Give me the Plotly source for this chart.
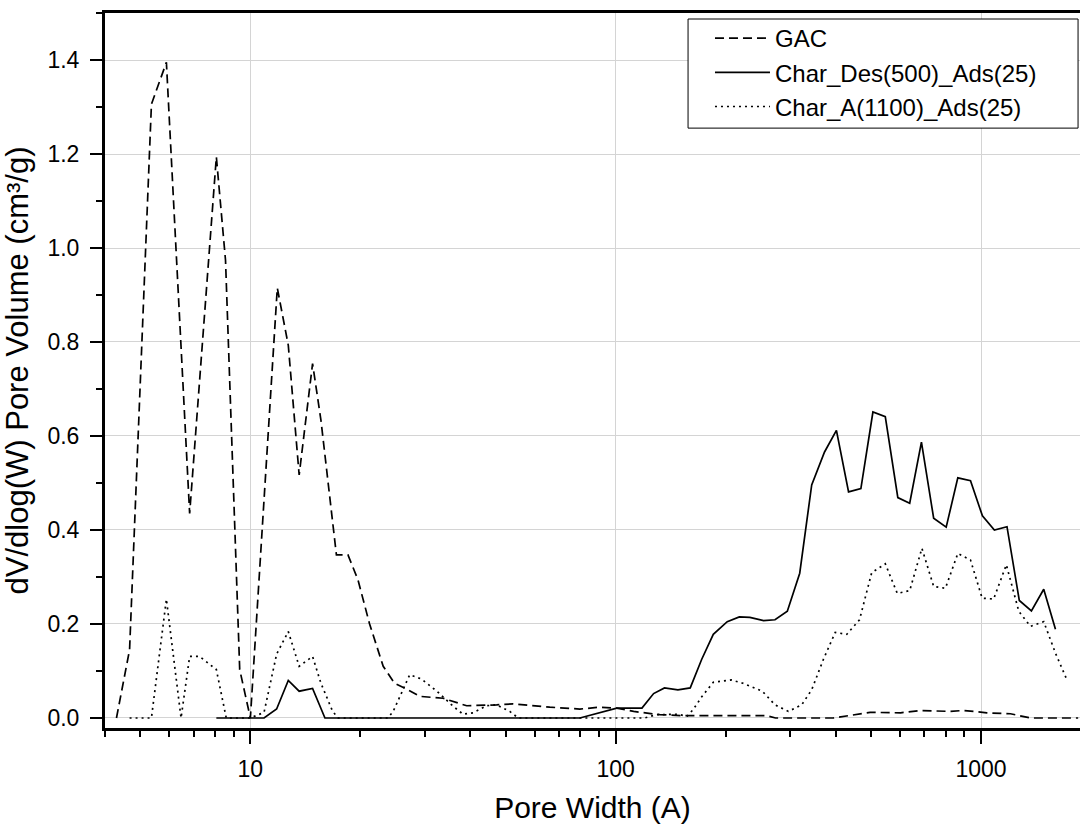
import plotly.graph_objects as go
import math

# ---------------- data ----------------
gac_w = [4.3, 4.67, 5.36, 5.89, 6.82, 8.07, 8.55, 9.35, 10.0, 11.85, 12.7, 13.6, 14.8, 15.6,
         17.2, 18.5, 19.7, 21.2, 23.1, 24.8, 26.4, 29.1, 33.7, 39.1, 47.2, 52.4, 66.0, 79.8,
         90.6, 100.7, 112, 132, 153, 171, 259, 274, 394, 497, 602, 682, 824, 897, 1038,
         1204, 1365, 1845]
gac_v = [0.0, 0.145, 1.306, 1.395, 0.435, 1.194, 0.974, 0.103, 0.0, 0.915, 0.793, 0.517, 0.754, 0.634,
         0.347, 0.347, 0.294, 0.200, 0.110, 0.074, 0.064, 0.046, 0.042, 0.026, 0.028, 0.030, 0.023, 0.019,
         0.023, 0.021, 0.014, 0.007, 0.005, 0.005, 0.005, 0.0, 0.0, 0.012, 0.011, 0.016, 0.014, 0.016, 0.011,
         0.009, 0.0, 0.0]

des_w = [8.07, 10.9, 11.8, 12.7, 13.6, 14.8, 16.0, 79.8, 100.7, 118, 127, 136, 148, 160, 172, 185,
         202, 218, 233, 254, 273, 295, 319, 344, 373, 402, 434, 469, 506, 547, 592, 638, 687,
         742, 803, 864, 936, 1009, 1088, 1178, 1273, 1374, 1485, 1599]
des_v = [0.0, 0.0, 0.019, 0.080, 0.057, 0.063, 0.0, 0.0, 0.021, 0.021, 0.052, 0.064, 0.060, 0.064, 0.125, 0.178,
         0.205, 0.215, 0.214, 0.207, 0.209, 0.227, 0.308, 0.496, 0.566, 0.612, 0.481, 0.488, 0.651, 0.641, 0.469, 0.457, 0.587,
         0.425, 0.406, 0.511, 0.505, 0.430, 0.400, 0.407, 0.250, 0.228, 0.274, 0.189]

a_w = [4.67, 5.36, 5.89, 6.46, 6.82, 7.26, 8.07, 8.59, 10.0, 10.9, 11.8, 12.7, 13.6, 14.8, 15.6, 16.8,
       17.4, 23.8, 24.6, 27.3, 29.4, 32.4, 35.9, 38.2, 40.7, 44.3, 47.2, 51.3, 54.1, 120, 129, 147, 157, 163,
       172, 185, 207, 223, 252, 273, 297, 323, 344, 370, 399, 429, 465, 502, 547, 590, 638, 689,
       742, 799, 864, 936, 1007, 1083, 1173, 1269, 1366, 1485, 1599, 1719]
a_v = [0.0, 0.0, 0.253, 0.0, 0.131, 0.131, 0.103, 0.0, 0.0, 0.012, 0.136, 0.184, 0.110, 0.131, 0.074, 0.014,
       0.0, 0.0, 0.014, 0.092, 0.083, 0.057, 0.025, 0.008, 0.011, 0.026, 0.028, 0.014, 0.0, 0.0, 0.007, 0.008, 0.004, 0.018,
       0.045, 0.076, 0.081, 0.074, 0.057, 0.028, 0.014, 0.028, 0.060, 0.124, 0.182, 0.178, 0.209, 0.309, 0.328, 0.265, 0.271, 0.361,
       0.280, 0.276, 0.350, 0.336, 0.255, 0.253, 0.326, 0.227, 0.195, 0.205, 0.138, 0.081]

x_major = [10, 100, 1000]
x_major_text = ["10", "100", "1000"]
x_minor = [4, 5, 6, 7, 8, 9, 20, 30, 40, 50, 60, 70, 80, 90, 200, 300, 400, 500, 600, 700, 800, 900]

series_names = ["GAC", "Char_Des(500)_Ads(25)", "Char_A(1100)_Ads(25)"]

# ---------------- figure ----------------
FONT = "Liberation Sans, Arial, sans-serif"
fig = go.Figure()
fig.add_trace(go.Scatter(x=gac_w, y=gac_v, mode="lines", name=series_names[0],
                         line=dict(color="black", width=1.7, dash="9px,5px")))
fig.add_trace(go.Scatter(x=des_w, y=des_v, mode="lines", name=series_names[1],
                         line=dict(color="black", width=1.7)))
fig.add_trace(go.Scatter(x=a_w, y=a_v, mode="lines", name=series_names[2],
                         line=dict(color="black", width=1.7, dash="2px,4px")))

# legend frame (white box with thin black border)
fig.add_shape(type="rect", xref="paper", yref="paper",
              x0=0.598, x1=0.998, y0=0.839, y1=0.9916,
              line=dict(color="black", width=1), fillcolor="white", layer="above")

fig.update_layout(
    width=1081, height=825,
    margin=dict(l=105, r=1, t=13, b=97),
    paper_bgcolor="white", plot_bgcolor="white",
    font=dict(family=FONT, color="black", size=23),
    showlegend=True,
    legend=dict(x=0.6205, y=0.9958, xanchor="left", yanchor="top",
                borderwidth=0, bgcolor="rgba(0,0,0,0)",
                font=dict(family=FONT, size=24, color="black"),
                itemwidth=55, tracegroupgap=0),
)

fig.update_xaxes(
    type="log", range=[math.log10(4), 3.271],
    tickvals=x_major, ticktext=x_major_text,
    ticks="outside", ticklen=13, tickwidth=2, tickcolor="black",
    ticklabelstandoff=5,
    showline=True, linewidth=3, linecolor="black", mirror=True,
    showgrid=True, gridcolor="#d4d4d4", gridwidth=1,
    zeroline=False,
    minor=dict(tickvals=x_minor, ticks="outside", ticklen=6, tickwidth=2,
               tickcolor="black", showgrid=False),
    tickfont=dict(size=23),
    title=dict(text="Pore Width (A)", font=dict(size=30), standoff=17),
)
fig.update_yaxes(
    range=[-0.0213, 1.5], dtick=0.2, tick0=0, tickformat=".1f",
    ticks="outside", ticklen=12, tickwidth=2, tickcolor="black",
    ticklabelstandoff=6,
    showline=True, linewidth=3, linecolor="black", mirror=False,
    showgrid=True, gridcolor="#d4d4d4", gridwidth=1,
    zeroline=False,
    minor=dict(dtick=0.1, tick0=0, ticks="outside", ticklen=6, tickwidth=2,
               tickcolor="black", showgrid=False),
    tickfont=dict(size=23),
    title=dict(text="dV/dlog(W) Pore Volume (cm³/g)", font=dict(size=31), standoff=11),
)

fig.write_html("out.html")
